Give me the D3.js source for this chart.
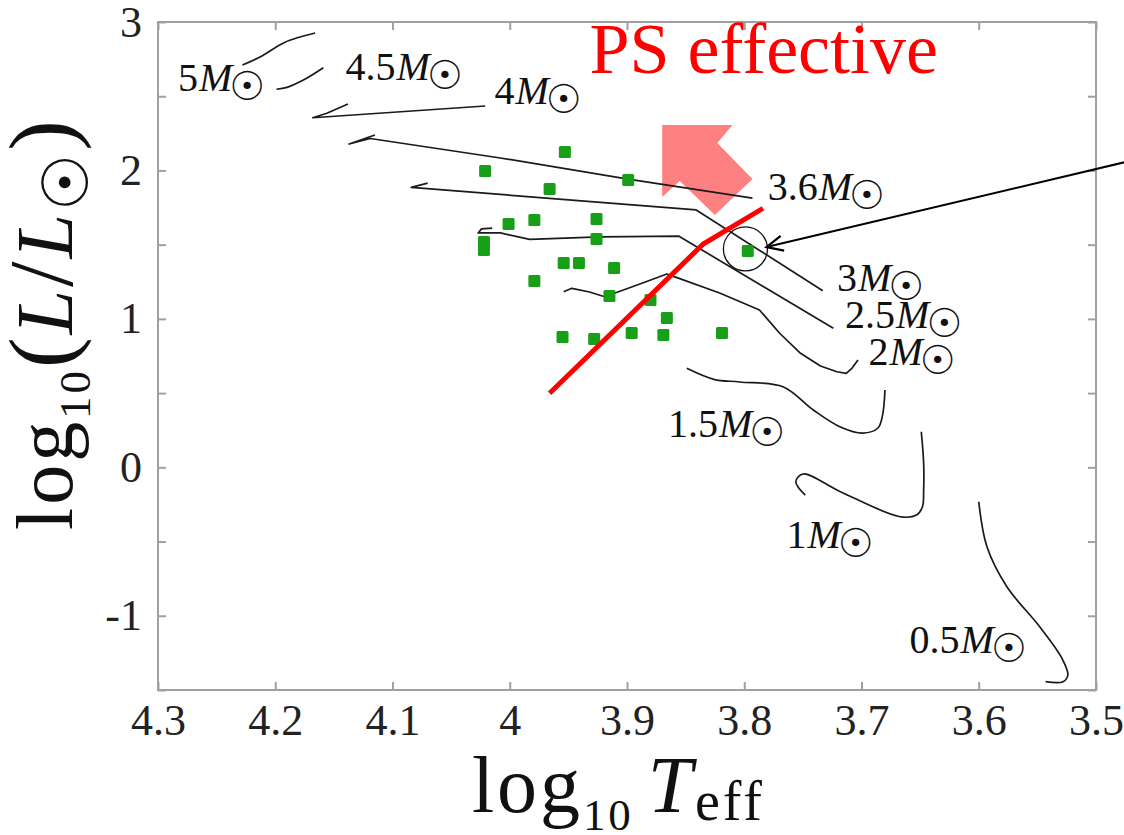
<!DOCTYPE html>
<html><head><meta charset="utf-8">
<script src="https://cdn.jsdelivr.net/npm/d3@7"></script>
<style>body{margin:0;background:#fff} text{font-family:"Liberation Serif","DejaVu Serif",serif}</style>
</head><body>
<svg id="chart" width="1124" height="835"></svg>
<script>
// ---- data (log10 Teff, log10 L/Lsun) ----
const xTicks = [4.3, 4.2, 4.1, 4.0, 3.9, 3.8, 3.7, 3.6, 3.5];
const yTicks = [-1.5, -1, -0.5, 0, 0.5, 1, 1.5, 2, 2.5, 3];
const yTickLabels = [-1, 0, 1, 2, 3];

const massNames = ["5", "4.5", "4", "3.6", "3", "2.5", "2", "1.5", "1", "0.5"];
const track5   = [[4.228,2.710],[4.213,2.764],[4.193,2.859],[4.179,2.899],[4.166,2.926]];
const track4_5 = [[4.199,2.547],[4.190,2.560],[4.176,2.609],[4.159,2.692]];
const track4   = [[4.021,2.434],[4.168,2.355],[4.156,2.385],[4.138,2.448]];
const track3_6 = [[3.793,1.814],[3.899,1.942],[4.008,2.084],[4.119,2.215],[4.137,2.178],[4.115,2.239]];
const track3   = [[3.733,1.190],[3.841,1.734],[4.084,1.886],[4.070,1.915]];
const track2_5 = [[3.724,0.937],[3.856,1.558],[3.923,1.552],[3.983,1.536],[4.008,1.579],[4.027,1.579],[4.024,1.606],[4.015,1.612]];
const track2   = [[3.954,1.183],[3.947,1.206],[3.932,1.181],[3.919,1.149],[3.889,1.235],[3.866,1.302],[3.858,1.280],[3.821,1.174],[3.787,1.060],[3.770,0.905],[3.752,0.768],[3.735,0.683],[3.721,0.644],[3.713,0.633],[3.708,0.669],[3.703,0.723]];
const track1_5 = [[3.849,0.667],[3.826,0.593],[3.804,0.575],[3.767,0.543],[3.741,0.386],[3.718,0.272],[3.699,0.231],[3.686,0.265],[3.682,0.353],[3.680,0.521]];
const track1   = [[3.748,-0.187],[3.756,-0.097],[3.750,-0.045],[3.718,-0.164],[3.667,-0.333],[3.653,-0.321],[3.648,-0.265],[3.647,-0.153],[3.647,0.029],[3.649,0.240]];
const track0_5 = [[3.600,-0.232],[3.593,-0.535],[3.576,-0.804],[3.548,-1.074],[3.529,-1.287],[3.524,-1.399],[3.528,-1.444],[3.543,-1.444]];
const tracks = [track5, track4_5, track4, track3_6, track3, track2_5, track2, track1_5, track1, track0_5];
const smoothTracks = ["5", "4.5", "1.5", "1", "0.5"];
// label anchor (left, baseline) in data coordinates
const labelTeff = [4.283, 4.140, 4.013, 3.780, 3.721, 3.714, 3.694, 3.865, 3.764, 3.659];
const labelLum  = [2.535, 2.609, 2.448, 1.801, 1.188, 0.939, 0.689, 0.204, -0.544, -1.251];

const starTeff = [3.953,4.021,3.899,3.966,3.926,3.979,4.001,3.926,4.022,4.022,3.954,3.941,3.911,3.979,3.915,3.880,3.866,3.955,3.928,3.896,3.869,3.819,3.797];
const starLum  = [2.124,1.996,1.936,1.875,1.673,1.666,1.639,1.538,1.518,1.464,1.376,1.376,1.343,1.255,1.154,1.127,1.006,0.878,0.864,0.905,0.891,0.905,1.457];

const psLine = [[3.966,0.499],[3.835,1.504],[3.784,1.745]];
const psArrow = [[3.870,2.306],[3.810,2.306],[3.823,2.185],[3.793,1.942],[3.825,1.700],[3.855,1.929],[3.870,1.821]];
const psText = "PS effective";
const psTextPos = [3.932, 2.656];
const highlightStar = [3.799, 1.471];
const pointerFrom = [3.471, 2.064];
const pointerTo = [3.781, 1.484];

// ---- drawing ----
const svg = d3.select("#chart");
const W = 1124, H = 835;
const x = d3.scaleLinear().domain([4.3, 3.5]).range([158, 1096]);
const y = d3.scaleLinear().domain([-1.5, 3]).range([690, 22]);
const serif = '"Liberation Serif","DejaVu Serif",serif';
const frameColor = "#a0a0a0";
const sunFont = '"DejaVu Sans"';

svg.append("rect").attr("width", W).attr("height", H).attr("fill", "#fff");

// axes
const gB = svg.append("g").attr("transform", `translate(0,${y(-1.5)})`)
  .call(d3.axisBottom(x).tickValues(xTicks).tickSize(-8).tickPadding(14).tickFormat(d => String(+d.toFixed(1))));
const gT = svg.append("g").attr("transform", `translate(0,${y(3)})`)
  .call(d3.axisTop(x).tickValues(xTicks).tickSize(-8).tickFormat(""));
const gL = svg.append("g").attr("transform", `translate(${x(4.3)},0)`)
  .call(d3.axisLeft(y).tickValues(yTicks).tickSize(-8).tickPadding(16)
    .tickFormat(d => yTickLabels.includes(d) ? String(d) : ""));
const gR = svg.append("g").attr("transform", `translate(${x(3.5)},0)`)
  .call(d3.axisRight(y).tickValues(yTicks).tickSize(-8).tickFormat(""));
[gB, gT, gL, gR].forEach(g => {
  g.attr("font-family", null).attr("font-size", null);
  g.select(".domain").remove();
  g.selectAll(".tick line").attr("stroke", frameColor).attr("stroke-width", 2);
  g.selectAll("text").style("font-family", serif).style("font-size", "44px").attr("fill", "#222");
});
svg.append("rect")
  .attr("x", x(4.3)).attr("y", y(3))
  .attr("width", x(3.5) - x(4.3)).attr("height", y(-1.5) - y(3))
  .attr("fill", "none").attr("stroke", frameColor).attr("stroke-width", 2);

// pink arrow
svg.append("polygon")
  .attr("points", psArrow.map(p => [x(p[0]), y(p[1])].join(",")).join(" "))
  .attr("fill", "#ff8080");

// tracks
const lineLin = d3.line().x(d => x(d[0])).y(d => y(d[1]));
const lineSm = d3.line().x(d => x(d[0])).y(d => y(d[1])).curve(d3.curveCatmullRom.alpha(0.5));
tracks.forEach((t, i) => {
  svg.append("path").attr("d", (smoothTracks.includes(massNames[i]) ? lineSm : lineLin)(t))
    .attr("fill", "none").attr("stroke", "#1a1a1a").attr("stroke-width", 1.7)
    .attr("stroke-linejoin", "round");
});

// stars
svg.append("g").selectAll("rect").data(starTeff.map((t, i) => [t, starLum[i]])).join("rect")
  .attr("x", d => x(d[0]) - 6).attr("y", d => y(d[1]) - 6)
  .attr("width", 12).attr("height", 12).attr("rx", 1.5)
  .attr("fill", "#17a017");

// PS red line
svg.append("path").attr("d", lineLin(psLine))
  .attr("fill", "none").attr("stroke", "#ff0000").attr("stroke-width", 5).attr("stroke-linecap", "butt");

// highlight circle + pointer
svg.append("circle").attr("cx", x(highlightStar[0])).attr("cy", y(highlightStar[1]))
  .attr("r", 22).attr("fill", "none").attr("stroke", "#111").attr("stroke-width", 1.3);
{
  const x1 = x(pointerFrom[0]), y1 = y(pointerFrom[1]), x2 = x(pointerTo[0]), y2 = y(pointerTo[1]);
  svg.append("line").attr("x1", x1).attr("y1", y1).attr("x2", x2).attr("y2", y2)
    .attr("stroke", "#000").attr("stroke-width", 2);
  const a = Math.atan2(y1 - y2, x1 - x2), L = 18, s = 25 * Math.PI / 180;
  const p1 = [x2 + L * Math.cos(a - s), y2 + L * Math.sin(a - s)];
  const p2 = [x2 + L * Math.cos(a + s), y2 + L * Math.sin(a + s)];
  svg.append("path").attr("d", `M${p1}L${x2},${y2}L${p2}`)
    .attr("fill", "none").attr("stroke", "#000").attr("stroke-width", 2.2);
}

// mass labels
massNames.forEach((m, i) => {
  const t = svg.append("text").attr("x", x(labelTeff[i])).attr("y", y(labelLum[i]))
    .style("font-family", serif).style("font-size", "40px").attr("fill", "#111");
  t.append("tspan").text(m);
  t.append("tspan").style("font-style", "italic").attr("dx", 1).text("M");
  t.append("tspan").style("font-family", sunFont).style("font-size", "40px").style("font-weight", "bold")
    .attr("dx", -3).attr("dy", 9).text("☉");
});

// PS effective text
svg.append("text").attr("x", x(psTextPos[0])).attr("y", y(psTextPos[1]))
  .style("font-family", serif).style("font-size", "72px").attr("fill", "#ff0000").text(psText);

// x title
{
  const t = svg.append("text").attr("x", 617).attr("y", 812).attr("text-anchor", "middle")
    .style("font-family", serif).style("font-size", "80px").attr("fill", "#111")
    .attr("textLength", 290).attr("lengthAdjust", "spacing");
  t.append("tspan").text("log");
  t.append("tspan").style("font-size", "45px").attr("dy", 18).text("10");
  t.append("tspan").style("font-style", "italic").attr("dy", -18).attr("dx", 14).text("T");
  t.append("tspan").style("font-size", "56px").attr("dy", 8).text("eff");
}
// y title
{
  const t = svg.append("text").attr("transform", "translate(72,325) rotate(-90)")
    .attr("text-anchor", "middle")
    .style("font-family", serif).style("font-size", "80px").attr("fill", "#111")
    .attr("textLength", 410).attr("lengthAdjust", "spacing");
  t.append("tspan").text("log");
  t.append("tspan").style("font-size", "45px").attr("dy", 18).text("10");
  t.append("tspan").style("font-size", "92px").attr("dy", -18).text("(");
  t.append("tspan").style("font-style", "italic").text("L");
  t.append("tspan").style("font-size", "92px").text("/");
  t.append("tspan").style("font-style", "italic").text("L");
  t.append("tspan").style("font-family", sunFont).style("font-size", "64px").attr("dy", 16).text("☉");
  t.append("tspan").style("font-size", "92px").attr("dy", -16).text(")");
}
</script>
</body></html>
